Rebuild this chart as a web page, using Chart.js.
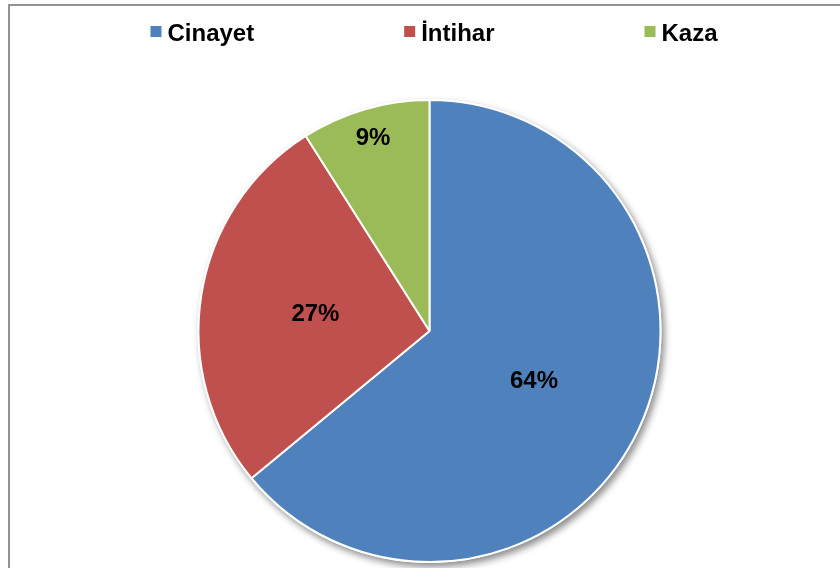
<!DOCTYPE html>
<html>
<head>
<meta charset="utf-8">
<script src="https://cdn.jsdelivr.net/npm/chart.js@4"></script>
<style>
  html, body { margin: 0; padding: 0; background: #ffffff; overflow: hidden; }
  #frame { position: absolute; left: 8px; top: 4px; width: 900px; height: 700px;
           border-left: 2px solid #939393; border-top: 2px solid #939393; }
  #wrap { position: absolute; left: 0; top: 0; width: 840px; height: 568px; }
</style>
</head>
<body>
<div id="frame"></div>
<div id="wrap"><canvas id="c" width="840" height="568"></canvas></div>
<script>
const categories = ['Cinayet', 'İntihar', 'Kaza'];
const values = [64, 27, 9];
const percentLabels = ['64%', '27%', '9%'];
const colors = ['#4F81BD', '#C0504D', '#9BBB59'];

const FONT = '"Liberation Sans", Arial, sans-serif';

// soft shadow beneath the whole pie
const shadowPlugin = {
  id: 'pieShadow',
  beforeDatasetsDraw(chart) {
    const arc = chart.getDatasetMeta(0).data[0];
    if (!arc) return;
    const ctx = chart.ctx;
    ctx.save();
    ctx.shadowColor = 'rgba(0,0,0,0.45)';
    ctx.shadowBlur = 7;
    ctx.shadowOffsetX = 3;
    ctx.shadowOffsetY = 4;
    ctx.beginPath();
    ctx.arc(arc.x, arc.y, arc.outerRadius + 1, 0, Math.PI * 2);
    ctx.fillStyle = '#ffffff';
    ctx.fill();
    ctx.restore();
  }
};

// percentage labels inside slices
const labelRadiusFraction = [0.5, 0.5, 0.875];
const sliceLabelPlugin = {
  id: 'sliceLabels',
  afterDatasetsDraw(chart) {
    const ctx = chart.ctx;
    const meta = chart.getDatasetMeta(0);
    ctx.save();
    ctx.font = 'bold 24px ' + FONT;
    ctx.fillStyle = '#000000';
    ctx.textAlign = 'center';
    ctx.textBaseline = 'middle';
    meta.data.forEach((arc, i) => {
      const mid = (arc.startAngle + arc.endAngle) / 2;
      const r = arc.outerRadius * labelRadiusFraction[i];
      ctx.fillText(percentLabels[i], arc.x + Math.cos(mid) * r, arc.y + Math.sin(mid) * r + 1);
    });
    ctx.restore();
  }
};

// wide-spaced legend across the top
const legendPlugin = {
  id: 'wideLegend',
  afterDraw(chart) {
    const ctx = chart.ctx;
    ctx.save();
    ctx.font = 'bold 24px ' + FONT;
    const box = 11, boxGap = 6, itemGap = 150;
    const widths = chart.data.labels.map(t => box + boxGap + ctx.measureText(t).width);
    const total = widths.reduce((a, b) => a + b, 0) + itemGap * (widths.length - 1);
    let x = 434 - total / 2;
    chart.data.labels.forEach((t, i) => {
      ctx.fillStyle = chart.data.datasets[0].backgroundColor[i];
      ctx.fillRect(x, 26, box, box);
      ctx.fillStyle = '#000000';
      ctx.textAlign = 'left';
      ctx.textBaseline = 'alphabetic';
      ctx.fillText(t, x + box + boxGap, 41);
      x += widths[i] + itemGap;
    });
    ctx.restore();
  }
};

new Chart(document.getElementById('c'), {
  type: 'pie',
  data: {
    labels: categories,
    datasets: [{
      data: values,
      backgroundColor: colors,
      borderColor: '#ffffff',
      borderWidth: 2,
      hoverOffset: 0
    }]
  },
  options: {
    responsive: false,
    animation: false,
    layout: { padding: { left: 19, right: 0, top: 99, bottom: 5 } },
    plugins: {
      legend: { display: false },
      tooltip: { enabled: false }
    }
  },
  plugins: [shadowPlugin, sliceLabelPlugin, legendPlugin]
});
</script>
</body>
</html>
